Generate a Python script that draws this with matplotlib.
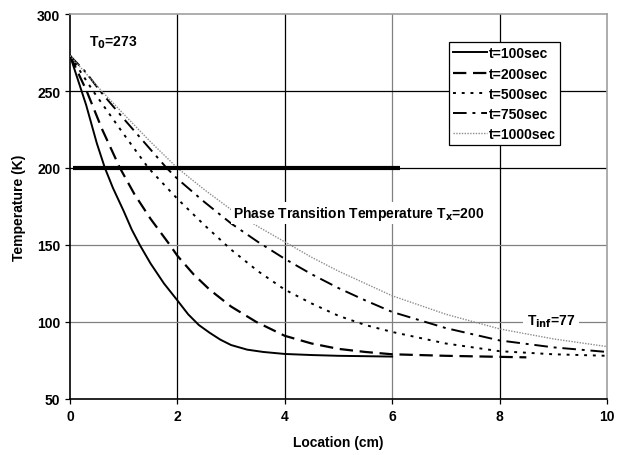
import matplotlib
matplotlib.use('Agg')
import matplotlib.pyplot as plt

plt.rcParams['font.family'] = ['Liberation Sans', 'DejaVu Sans']
plt.rcParams['font.weight'] = 'bold'

# Datos (ubicación en cm, temperatura en K)
x_100 = [0, 0.3, 0.5, 0.65, 0.8, 1.0, 1.15, 1.3, 1.5, 1.75, 2.0, 2.2, 2.4, 2.6, 2.8,
         3.0, 3.3, 3.6, 4.0, 4.5, 5.0, 6.0]
T_100 = [273, 241, 216, 200, 187, 172, 160, 150, 138, 125, 114, 105, 98, 93, 88.5,
         85, 82, 80.5, 79.2, 78.5, 78, 77.5]

x_200 = [0, 0.31, 0.6, 0.93, 1.2, 1.5, 1.86, 2.0, 2.3, 2.6, 3.0, 3.47, 4.0, 4.5, 5.0,
         5.5, 6.0, 7.0, 8.5]
T_200 = [273, 250, 225, 200, 183, 167, 150, 143, 131, 121, 110, 100, 91, 86, 82.5,
         80.5, 79, 78, 77]

x_500 = [0, 0.43, 1.0, 1.46, 2.0, 2.5, 3.0, 3.5, 4.0, 4.5, 5.0, 5.5, 6.0, 7.0, 8.0, 9.0, 10.0]
T_500 = [273, 250, 222, 200, 180, 163, 147, 133, 121, 112, 104, 98, 93.5, 86, 81, 79, 78]

x_750 = [0, 0.3, 0.56, 1.0, 1.5, 1.8, 2.0, 2.5, 3.0, 3.5, 4.0, 4.5, 5.0, 5.5, 6.0, 7.0,
         8.0, 9.0, 10.0]
T_750 = [273, 262, 250, 232, 212, 200, 193, 178, 164, 152, 141, 131, 122, 114, 106.5, 96,
         88, 83.5, 80.5]

x_1000 = [0, 0.59, 1.0, 1.5, 2.0, 2.5, 3.0, 3.5, 4.0, 4.5, 5.0, 5.5, 6.0, 7.0, 8.0, 9.0, 10.0]
T_1000 = [273, 250, 235, 217, 200, 186, 173, 162, 152, 142, 133, 125, 117, 105, 95.5, 89, 84]

T_x = 200
x_fase = [0.05, 6.15]

fig = plt.figure(figsize=(6.25, 4.56), dpi=100)
ax = fig.add_axes([0.112, 0.123, 0.859, 0.844])

# Rejilla (unas líneas negras, otras grises, como en el original)
for xv, c in [(2, 'black'), (4, 'black'), (6, '#808080'), (8, 'black')]:
    ax.axvline(xv, color=c, lw=0.9, zorder=1)
for yv, c in [(250, 'black'), (200, 'black'), (150, '#808080'), (100, '#808080')]:
    ax.axhline(yv, color=c, lw=0.9, zorder=1)

ax.plot(x_100, T_100, color='black', lw=1.4, ls='-', label='t=100sec', zorder=3)
ax.plot(x_200, T_200, color='black', lw=1.6, ls=(0, (6, 3)), label='t=200sec', zorder=3)
ax.plot(x_500, T_500, color='black', lw=1.4, ls=(0, (1.5, 3)), label='t=500sec', zorder=3)
ax.plot(x_750, T_750, color='black', lw=1.4, ls=(0, (7, 3, 1.5, 3)), label='t=750sec', zorder=3)
ax.plot(x_1000, T_1000, color='#8c8c8c', lw=1.0, ls=(0, (1, 1)), label='t=1000sec', zorder=3)

# Temperatura de transición de fase
ax.plot(x_fase, [T_x, T_x], color='black', lw=3, solid_capstyle='butt', zorder=4)
ax.text(3.04, 171, 'Phase Transition Temperature T$_\\mathbf{x}$=200', fontsize=10,
        fontweight='bold', va='center', ha='left', zorder=5,
        bbox=dict(facecolor='white', edgecolor='none', pad=1.5))
ax.text(0.8, 282, 'T$_\\mathbf{0}$=273', fontsize=10, fontweight='bold',
        ha='center', va='center', zorder=5)
ax.text(8.96, 101, 'T$_\\mathbf{inf}$=77', fontsize=10, fontweight='bold',
        ha='center', va='center', zorder=5,
        bbox=dict(facecolor='white', edgecolor='none', pad=3))

ax.set_xlim(0, 10)
ax.set_ylim(50, 300)
ax.set_xticks([0, 2, 4, 6, 8, 10])
ax.set_yticks([50, 100, 150, 200, 250, 300])
ax.tick_params(direction='out', length=3.5, width=0.9, labelsize=10, color='black')
for lab in ax.get_xticklabels() + ax.get_yticklabels():
    lab.set_fontweight('bold')

ax.spines['top'].set_color('#a0a0a0')
ax.spines['right'].set_color('#a0a0a0')
ax.spines['left'].set_color('black')
ax.spines['bottom'].set_color('black')
for s in ax.spines.values():
    s.set_linewidth(1.2)

ax.set_xlabel('Location (cm)', fontsize=10, fontweight='bold', labelpad=9)
ax.set_ylabel('Temperature (K)', fontsize=10, fontweight='bold', labelpad=8)

leg = ax.legend(loc='upper left', bbox_to_anchor=(0.706, 0.927), fontsize=10,
                frameon=True, fancybox=False, edgecolor='black', framealpha=1,
                handlelength=2.4, handletextpad=0.15, labelspacing=0.45,
                borderpad=0.3, borderaxespad=0)
leg.get_frame().set_linewidth(0.9)
for t in leg.get_texts():
    t.set_fontweight('bold')

plt.savefig('out.png', dpi=100)
